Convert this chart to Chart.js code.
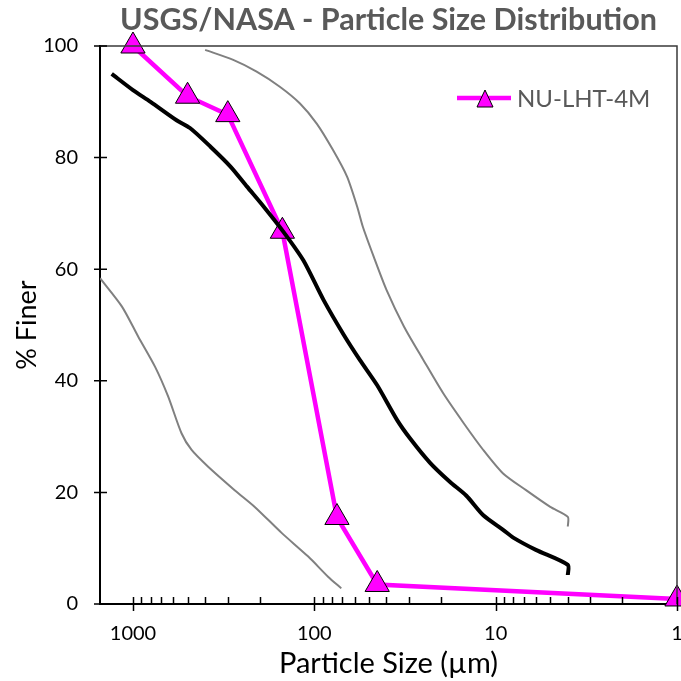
<!DOCTYPE html>
<html>
<head>
<meta charset="utf-8">
<title>Particle Size Distribution</title>
<script src="https://cdn.jsdelivr.net/npm/chart.js@4.4.1/dist/chart.umd.min.js"></script>
<style>
  html, body { margin: 0; padding: 0; background: #fff; }
  #chart { display: block; }
</style>
</head>
<body>
<canvas id="chart" width="681" height="681"></canvas>
<script>
'use strict';

////////////////////////////
/// data
// NU-LHT-4M sieve results (size in µm, % finer)
const lhtSize = [1000, 500, 300, 150, 75, 45, 1];
const lhtFiner = [100, 91, 87.7, 66.8, 15.5, 3.5, 0.9];

// USGS/NASA reference: median curve
const medianSize = [1310, 1000, 800, 575, 485, 375, 290, 235, 190, 148, 115, 89, 69, 56, 45, 35, 29.7, 23, 17.9, 14.5, 11.7, 9.1, 8.0, 6.0, 4.0, 4.0];
const medianFiner = [95.0, 92.1, 90.0, 86.7, 85.3, 82.0, 78.4, 74.8, 71.2, 66.7, 61.6, 54.5, 48.3, 43.7, 39.2, 33.0, 29.7, 25.3, 21.9, 19.4, 15.9, 13.3, 11.9, 9.7, 7.0, 5.2];

// USGS/NASA reference: fine envelope
const upperSize = [400, 280, 208, 155, 120, 97, 79, 66, 58, 54, 47, 40, 32, 25, 19.5, 15, 11.7, 9.1, 6.8, 5.0, 4.0, 4.0];
const upperFiner = [99.3, 97.5, 95.4, 92.7, 89.7, 86.1, 81.4, 76.6, 71.2, 67.6, 62.2, 56.3, 49.7, 43.7, 37.8, 32.4, 27.6, 23.4, 20.4, 17.4, 15.6, 13.9];

// USGS/NASA reference: coarse envelope
const lowerSize = [1520, 1150, 935, 755, 640, 540, 475, 385, 275, 213, 151, 108, 84, 71];
const lowerFiner = [58.4, 53.3, 47.9, 42.5, 37.2, 30.6, 27.6, 24.6, 20.4, 17.4, 12.7, 8.5, 4.9, 2.8];

/// axes
const yTicks = [0, 20, 40, 60, 80, 100];
const xLabelTicks = [1, 10, 100, 1000];
const xMin = 1, xMax = 1520;

const titleText = 'USGS/NASA - Particle Size Distribution';
const legendLabel = 'NU-LHT-4M';

const MAGENTA = '#ff00ff';
const GREY = '#808080';

// minor tick values 1..9 in each decade
const xMinorTicks = [];
[1, 10, 100].forEach((d) => {
  for (let k = 1; k <= 9; k++) xMinorTicks.push(k * d);
});
xMinorTicks.push(1000);

const toPoints = (xs, ys) => xs.map((x, i) => ({ x: x, y: ys[i] }));

//////////////////////////////////////////////////////
/// plugin: title, frame, tick marks, legend
const decorations = {
  id: 'decorations',
  afterDraw(chart) {
    const { ctx, chartArea: a, scales } = chart;
    const xs = scales.x, ys = scales.y;
    ctx.save();

    // frame on top and right
    ctx.strokeStyle = '#3a3a3a';
    ctx.lineWidth = 1.5;
    ctx.beginPath();
    ctx.moveTo(a.left, a.top);
    ctx.lineTo(a.right, a.top);
    ctx.lineTo(a.right, a.bottom);
    ctx.stroke();

    // tick marks
    ctx.strokeStyle = '#000';
    ctx.lineWidth = 1.5;
    ctx.beginPath();
    yTicks.forEach((v) => {
      const y = ys.getPixelForValue(v);
      ctx.moveTo(a.left - 6, y);
      ctx.lineTo(a.left + 7, y);
    });
    xMinorTicks.forEach((v) => {
      const x = Math.round(xs.getPixelForValue(v)) + 0.5;
      const major = xLabelTicks.includes(v);
      ctx.moveTo(x, a.bottom - 7);
      ctx.lineTo(x, major ? a.bottom + 7 : a.bottom);
    });
    ctx.stroke();

    // title
    ctx.fillStyle = '#595959';
    ctx.font = 'bold 30.5px Lato';
    ctx.textAlign = 'center';
    ctx.textBaseline = 'middle';
    ctx.fillText(titleText, (a.left + a.right) / 2, 20);

    // legend
    const ly = a.top + 52;
    const lx = a.right - 220;
    ctx.strokeStyle = MAGENTA;
    ctx.lineWidth = 4.5;
    ctx.beginPath();
    ctx.moveTo(lx, ly);
    ctx.lineTo(lx + 54, ly);
    ctx.stroke();
    ctx.fillStyle = MAGENTA;
    ctx.strokeStyle = '#000';
    ctx.lineWidth = 1;
    ctx.beginPath();
    ctx.moveTo(lx + 28, ly - 8);
    ctx.lineTo(lx + 36, ly + 9);
    ctx.lineTo(lx + 20, ly + 9);
    ctx.closePath();
    ctx.fill();
    ctx.stroke();
    ctx.fillStyle = '#595959';
    ctx.font = '24px Lato';
    ctx.textAlign = 'left';
    ctx.fillText(legendLabel, lx + 60, ly + 1);

    ctx.restore();
  },
};

//////////////////////////////////////////////////////
/// chart
Chart.defaults.font.family = 'Lato';
Chart.defaults.color = '#000';

const curveStyle = (color, width) => ({
  borderColor: color,
  borderWidth: width,
  pointRadius: 0,
  tension: 0.25,
});

const chart = new Chart(document.getElementById('chart'), {
  type: 'line',
  data: {
    datasets: [
      Object.assign({ label: 'Median', data: toPoints(medianSize, medianFiner) }, curveStyle('#000', 4)),
      {
        label: legendLabel,
        data: toPoints(lhtSize, lhtFiner),
        borderColor: MAGENTA,
        backgroundColor: MAGENTA,
        borderWidth: 4.5,
        pointStyle: 'triangle',
        pointRadius: 14,
        pointBorderColor: '#000',
        pointBackgroundColor: MAGENTA,
        pointBorderWidth: 1,
        tension: 0,
        clip: false,
      },
      Object.assign({ label: 'Fine', data: toPoints(upperSize, upperFiner) }, curveStyle(GREY, 2)),
      Object.assign({ label: 'Coarse', data: toPoints(lowerSize, lowerFiner) }, curveStyle(GREY, 2)),
    ],
  },
  options: {
    responsive: false,
    animation: false,
    events: [],
    layout: {
      autoPadding: false,
      padding: { top: 46, right: 4, left: 0, bottom: 0 },
    },
    plugins: {
      legend: { display: false },
      tooltip: { enabled: false },
    },
    scales: {
      x: {
        type: 'logarithmic',
        reverse: true,
        min: xMin,
        max: xMax,
        grid: { display: false, drawTicks: false },
        border: { display: true, color: '#000', width: 2 },
        afterBuildTicks: (scale) => {
          scale.ticks = xMinorTicks.map((v) => ({ value: v, major: xLabelTicks.includes(v) }));
        },
        afterFit: (scale) => {
          scale.height = 77;
        },
        ticks: {
          autoSkip: false,
          maxRotation: 0,
          padding: 18,
          font: { size: 20 },
          color: '#000',
          callback: (v) => (xLabelTicks.includes(v) ? String(v) : ''),
        },
        title: {
          display: true,
          text: 'Particle Size (µm)',
          font: { size: 29 },
          color: '#000',
          padding: { top: 0, bottom: 0 },
        },
      },
      y: {
        min: 0,
        max: 100,
        grid: { display: false, drawTicks: false },
        border: { display: true, color: '#000', width: 2 },
        afterFit: (scale) => {
          scale.width = 100;
        },
        ticks: {
          stepSize: 20,
          padding: 22,
          font: { size: 20 },
          color: '#000',
        },
        title: {
          display: true,
          text: '% Finer',
          font: { size: 27 },
          color: '#000',
          padding: { top: 11, bottom: 0 },
        },
      },
    },
  },
  plugins: [decorations],
});
</script>
</body>
</html>
